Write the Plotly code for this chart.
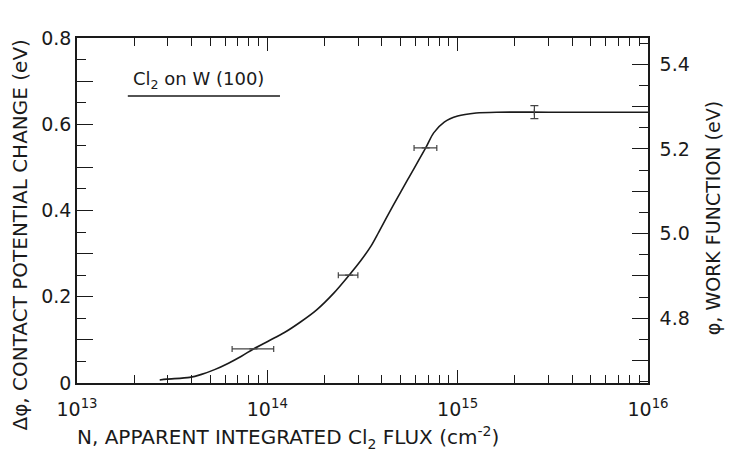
import plotly.graph_objects as go

# ---- data ----
curve_N = [2.72e13, 2.96e13, 3.91e13, 4.51e13, 5.28e13, 6.25e13, 7.31e13, 8.45e13,
           1.01e14, 1.23e14, 1.50e14, 1.81e14, 2.24e14, 2.69e14, 3.10e14, 3.51e14,
           3.85e14, 4.60e14, 5.47e14, 6.79e14, 7.48e14, 8.50e14, 1.00e15, 1.25e15,
           1.60e15, 3.0e15, 1.0e16]
curve_dphi = [0.007, 0.009, 0.013, 0.020, 0.031, 0.046, 0.062, 0.079,
              0.097, 0.117, 0.142, 0.169, 0.209, 0.250, 0.284, 0.318,
              0.350, 0.413, 0.472, 0.545, 0.580, 0.605, 0.619, 0.626,
              0.628, 0.628, 0.628]

pts_N = [8.45e13, 2.69e14, 6.79e14, 2.53e15]
pts_N_low = [6.53e13, 2.36e14, 5.90e14, 2.53e15]
pts_N_high = [1.08e14, 2.99e14, 7.77e14, 2.53e15]
pts_dphi = [0.079, 0.250, 0.545, 0.628]
pts_dphi_err = [0.0, 0.0, 0.0, 0.015]

x_tickvals = [1e13, 1e14, 1e15, 1e16]
x_ticktext = ["10<sup>13</sup>", "10<sup>14</sup>", "10<sup>15</sup>", "10<sup>16</sup>"]
y_tickvals = [0, 0.1, 0.2, 0.3, 0.4, 0.5, 0.6, 0.7, 0.8]
y_ticktext = ["0", "", "0.2", "", "0.4", "", "0.6", "", "0.8"]
y2_tickvals = [4.7, 4.8, 4.9, 5.0, 5.1, 5.2, 5.3, 5.4]
y2_ticktext = ["", "4.8", "", "5.0", "", "5.2", "", "5.4"]
y2_range = [4.647, 5.462]  # work-function scale of the right axis

INK = "#1a1a1a"
FONT = "DejaVu Sans"

fig = go.Figure()
fig.add_trace(go.Scatter(x=curve_N, y=curve_dphi, mode="lines",
                         line=dict(color=INK, width=1.6, shape="spline", smoothing=0.8),
                         hoverinfo="skip", showlegend=False))
fig.add_trace(go.Scatter(
    x=pts_N, y=pts_dphi, mode="markers",
    marker=dict(size=1, color="rgba(0,0,0,0)"),
    error_x=dict(type="data", symmetric=False,
                 array=[h - c for h, c in zip(pts_N_high, pts_N)],
                 arrayminus=[c - l for c, l in zip(pts_N, pts_N_low)],
                 color="#444", thickness=1.2, width=3),
    error_y=dict(type="data", array=pts_dphi_err, color="#444", thickness=1.2, width=4),
    showlegend=False, hoverinfo="skip"))
# invisible traces so the right and top axes are drawn
fig.add_trace(go.Scatter(x=[1e13], y=[y2_range[0]], yaxis="y2", mode="markers",
                         marker=dict(size=1, color="rgba(0,0,0,0)"),
                         showlegend=False, hoverinfo="skip"))
fig.add_trace(go.Scatter(x=[1e13], y=[0], xaxis="x2", mode="markers",
                         marker=dict(size=1, color="rgba(0,0,0,0)"),
                         showlegend=False, hoverinfo="skip"))

minor_x = [m * 10 ** e for e in (13, 14, 15) for m in range(2, 10)]

def x_axis(color):
    return dict(type="log", range=[13, 16], tickmode="array", tickvals=x_tickvals,
                ticks="inside", ticklen=13, tickwidth=1.2, tickcolor=color,
                showline=True, linecolor=INK, linewidth=1.5,
                showgrid=False, zeroline=False,
                minor=dict(tickmode="array", tickvals=minor_x, ticks="inside",
                           ticklen=8, tickwidth=1, tickcolor=color, showgrid=False))

fig.update_layout(
    width=732, height=463,
    margin=dict(l=77, r=84, t=38, b=80),
    paper_bgcolor="white", plot_bgcolor="white",
    font=dict(family=FONT, size=19, color=INK),
    xaxis=dict(**x_axis(INK), ticktext=x_ticktext, ticklabelstandoff=8,
               tickfont=dict(family=FONT, size=19, color=INK)),
    xaxis2=dict(**x_axis(INK), overlaying="x", side="top", anchor="y",
                showticklabels=False),
    yaxis=dict(range=[0, 0.8], tickmode="array", tickvals=y_tickvals, ticktext=y_ticktext,
               ticks="inside", ticklen=16, tickwidth=1.2, tickcolor=INK,
               showline=True, linecolor=INK, linewidth=1.5,
               showgrid=False, zeroline=False,
               tickfont=dict(family=FONT, size=19, color=INK),
               minor=dict(dtick=0.05, ticks="inside", ticklen=9, tickwidth=1,
                          tickcolor=INK, showgrid=False)),
    yaxis2=dict(overlaying="y", side="right", range=y2_range,
                tickmode="array", tickvals=y2_tickvals, ticktext=y2_ticktext,
                ticks="inside", ticklen=16, tickwidth=1.2, tickcolor=INK,
                showline=True, linecolor=INK, linewidth=1.5,
                showgrid=False, zeroline=False, ticklabelstandoff=6,
                tickfont=dict(family=FONT, size=19, color=INK),
                minor=dict(tickmode="array",
                           tickvals=[4.65, 4.75, 4.85, 4.95, 5.05, 5.15, 5.25, 5.35, 5.45],
                           ticks="inside", ticklen=9, tickwidth=1, tickcolor=INK, showgrid=False)),
    annotations=[
        dict(text="Δφ, CONTACT POTENTIAL CHANGE (eV)", xref="paper", yref="paper",
             x=-0.1, y=0.43, textangle=-90, showarrow=False,
             xanchor="center", yanchor="middle", font=dict(family=FONT, size=20, color=INK)),
        dict(text="φ, WORK FUNCTION (eV)", xref="paper", yref="paper",
             x=1.114, y=0.478, textangle=-90, showarrow=False,
             xanchor="center", yanchor="middle", font=dict(family=FONT, size=19, color=INK)),
        dict(text="N, APPARENT INTEGRATED Cl<sub>2</sub> FLUX (cm<sup>-2</sup>)",
             xref="paper", yref="paper", x=-0.004, y=-0.157, showarrow=False,
             xanchor="left", yanchor="middle", font=dict(family=FONT, size=20, color=INK)),
        dict(text="Cl<sub>2</sub> on W (100)", xref="paper", yref="paper",
             x=0.094, y=0.878, showarrow=False, xanchor="left", yanchor="middle",
             font=dict(family=FONT, size=18, color=INK)),
    ],
    shapes=[dict(type="line", xref="paper", yref="paper", x0=0.089, x1=0.3555,
                 y0=0.832, y1=0.832, line=dict(color=INK, width=1.5))],
)

fig.write_html("out.html")
